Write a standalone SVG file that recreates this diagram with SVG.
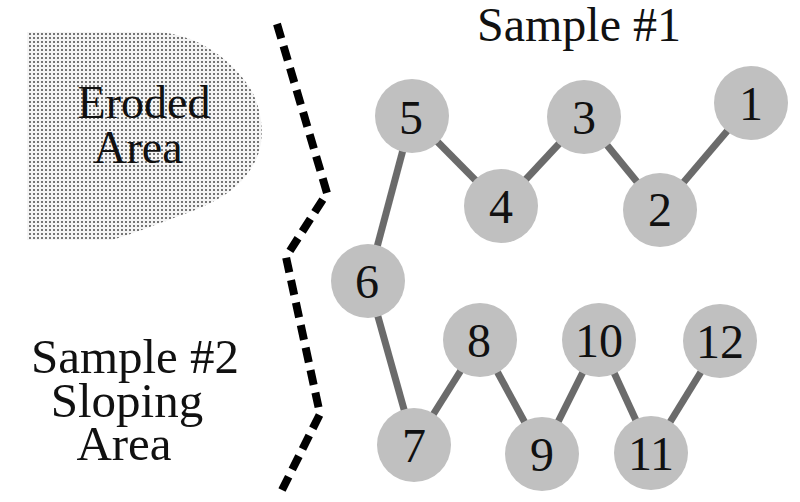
<svg xmlns="http://www.w3.org/2000/svg" width="800" height="502" viewBox="0 0 800 502">
<style>
.t{font-family:"Liberation Serif","Times New Roman",serif;fill:#111;text-anchor:middle}
.n circle{fill:#c0c0c0}
.n text{font-family:"Liberation Serif","Times New Roman",serif;font-size:48px;fill:#111;text-anchor:middle}
.e{stroke:#6b6b6b;stroke-width:7;fill:none}
.b{stroke:#000;stroke-width:8;fill:none;stroke-dasharray:15 8;stroke-linejoin:miter}
</style>
<defs>
<pattern id="dots" width="4" height="4" patternUnits="userSpaceOnUse">
<rect width="4" height="4" fill="#f4f4f4"/>
<circle cx="2" cy="2" r="1" fill="#4a4a4a"/>
</pattern>
</defs>
<rect width="800" height="502" fill="#fff"/>
<g id="eroded-area">
<path d="M27,32 L160,32 C200,36 232,60 250,88 C262,108 265,135 258,155 C248,180 228,198 190,212 C160,223 132,234 112,240 L27,240 Z" fill="url(#dots)"/>
<text class="t" x="144" y="118" font-size="46">Eroded</text>
<text class="t" x="138" y="163" font-size="46">Area</text>
</g>
<g id="boundary">
<polyline class="b" points="277,24 327,193 286,257 320,414 282,490"/>
</g>
<text class="t" x="579" y="41" font-size="48">Sample #1</text>
<g id="sample2-label">
<text class="t" x="135" y="373" font-size="49">Sample #2</text>
<text class="t" x="127" y="417" font-size="49">Sloping</text>
<text class="t" x="124" y="460" font-size="49">Area</text>
</g>
<g id="connectors">
<line class="e" x1="412" y1="116" x2="368" y2="281"/>
<line class="e" x1="412" y1="116" x2="501" y2="206"/>
<line class="e" x1="501" y1="206" x2="584" y2="117"/>
<line class="e" x1="584" y1="117" x2="660" y2="210"/>
<line class="e" x1="660" y1="210" x2="751" y2="103"/>
<line class="e" x1="368" y1="281" x2="414" y2="445"/>
<line class="e" x1="414" y1="445" x2="480" y2="340"/>
<line class="e" x1="480" y1="340" x2="542" y2="454"/>
<line class="e" x1="542" y1="454" x2="599" y2="340"/>
<line class="e" x1="599" y1="340" x2="651" y2="453"/>
<line class="e" x1="651" y1="453" x2="720" y2="341"/>
</g>
<g id="node1" class="n"><circle cx="751" cy="103" r="37"/><text x="751" y="120">1</text></g>
<g id="node2" class="n"><circle cx="660" cy="210" r="37"/><text x="660" y="226">2</text></g>
<g id="node3" class="n"><circle cx="584" cy="117" r="37"/><text x="584" y="134">3</text></g>
<g id="node4" class="n"><circle cx="501" cy="206" r="37"/><text x="501" y="223">4</text></g>
<g id="node5" class="n"><circle cx="412" cy="116" r="37"/><text x="411" y="134">5</text></g>
<g id="node6" class="n"><circle cx="368" cy="281" r="37"/><text x="367" y="298">6</text></g>
<g id="node7" class="n"><circle cx="414" cy="445" r="37"/><text x="414" y="462">7</text></g>
<g id="node8" class="n"><circle cx="480" cy="340" r="37"/><text x="479" y="357">8</text></g>
<g id="node9" class="n"><circle cx="542" cy="454" r="37"/><text x="542" y="471">9</text></g>
<g id="node10" class="n"><circle cx="599" cy="340" r="37"/><text x="599" y="357">10</text></g>
<g id="node11" class="n"><circle cx="651" cy="453" r="37"/><text x="651" y="470">11</text></g>
<g id="node12" class="n"><circle cx="720" cy="341" r="37"/><text x="720" y="358">12</text></g>
</svg>
